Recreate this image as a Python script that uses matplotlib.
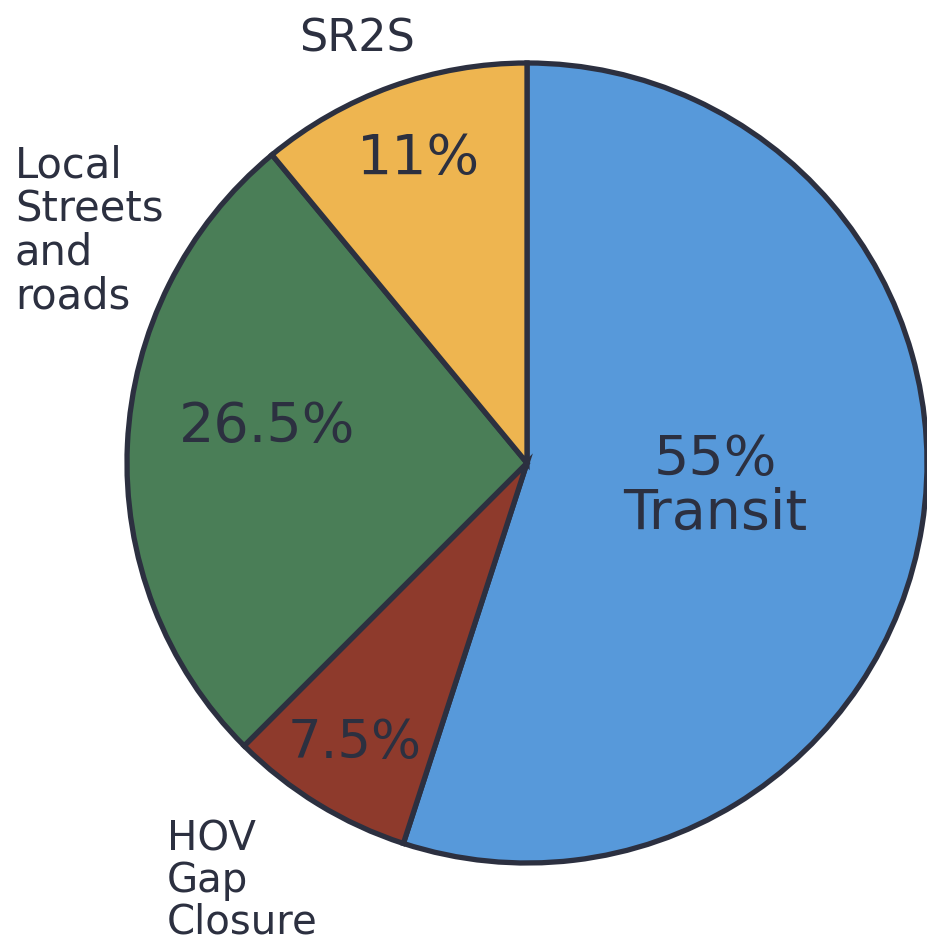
# hand-drawn style pie of funding shares
import matplotlib.pyplot as plt

# shares, clockwise from the top
categories = ["Transit", "HOV Gap Closure", "Local Streets and roads", "SR2S"]
shares = [55, 7.5, 26.5, 11]
pct_labels = ["55%\nTransit", "7.5%", "26.5%", "11%"]
outer_labels = ["", "HOV\nGap\nClosure", "Local\nStreets\nand\nroads", "SR2S"]

colors = ["#5799DA", "#8E3A2C", "#4A7E57", "#EEB550"]
ink = "#2C3040"

fig = plt.figure(figsize=(9.28, 9.51), dpi=100)
ax = fig.add_axes([0, 0, 1, 1])
ax.axis("off")

wedges, _ = ax.pie(shares, colors=colors, startangle=90, counterclock=False,
                   radius=1.0, center=(0, 0),
                   wedgeprops=dict(edgecolor=ink, linewidth=3.8))
# about 400 px per unit, centre at (527, 463) px
ax.set_xlim(-1.3175, 1.0025)
ax.set_ylim(-1.22, 1.1575)

pct_pos = [(0.47, -0.06), (-0.43, -0.70), (-0.65, 0.09), (-0.27, 0.76)]
pct_size = [40, 38, 40, 40]
for txt, (x, y), fs in zip(pct_labels, pct_pos, pct_size):
    ax.text(x, y, txt, ha="center", va="center", fontsize=fs, color=ink,
            family="DejaVu Sans", linespacing=1.0)

out_pos = [(0, 0), (-0.90, -1.20), (-1.28, 0.58), (-0.425, 1.06)]
out_ha = ["center", "left", "left", "center"]
out_va = ["center", "bottom", "center", "center"]
out_size = [30, 29, 30, 32]
for txt, (x, y), ha, va, fs in zip(outer_labels, out_pos, out_ha, out_va, out_size):
    if txt:
        ax.text(x, y, txt, ha=ha, va=va, fontsize=fs, color=ink,
                family="DejaVu Sans", linespacing=1.05)

fig.savefig("out.png", dpi=100)
